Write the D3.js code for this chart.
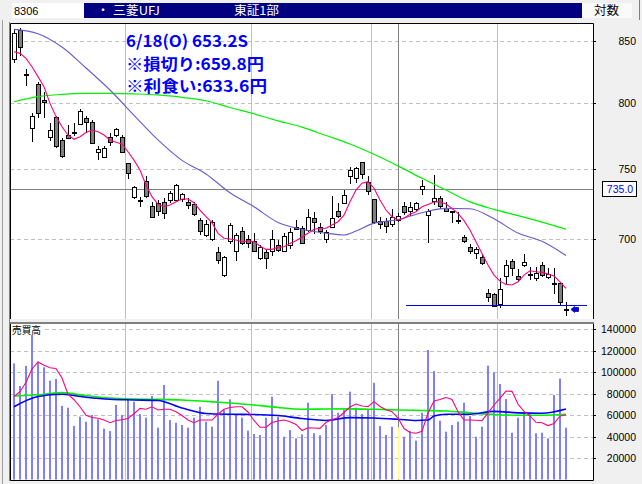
<!DOCTYPE html>
<html><head><meta charset="utf-8">
<script src="https://cdn.jsdelivr.net/npm/d3@7"></script>
<style>
html,body{margin:0;padding:0;background:#f0f0f0;overflow:hidden}
svg{display:block}
</style></head><body>
<svg id="c" width="642" height="484"></svg>
<script>
// ---------- DATA ----------
const opens  = [835,859.5,823,780.4,815,802,774,789,771.5,775,777,783.7,788,785,762.3,759,773.5,775.3,774,754,729.7,727.5,741,723,725,725.7,727.3,727.3,727.8,726,724.4,713,702.9,699.8,690.8,675.6,698.5,692,705.7,699.8,698.6,686.8,690.8,692,696,692,696,708.5,707.3,706.2,714.4,708.5,699.8,708.5,719.5,725,744.9,743,755.1,740.1,727.8,712.5,712.5,710.4,713.2,723.2,719.7,721,735.2,716.7,726.8,728.5,721.4,719.2,713,701.6,694.4,690.3,687.9,663.6,663,656.4,674.7,685,675,682.1,676.5,673.4,682.1,674.5,670.3,670.1,653.5];
const highs  = [860,861,826.9,791.9,817,809,784.2,790,772.8,782.7,784.2,795,790,786.8,766.9,766.6,776.6,781,775.3,754,737.6,729.7,744.9,726.2,727.3,729,734,739,732.5,728.5,726.1,714.4,713.2,713.2,694.6,688.4,710.9,704.2,708.5,702.8,704.2,696,692.4,706.2,699.3,704.2,707.3,713.2,709,720.7,718.6,710.9,706.2,730.2,725.4,734.5,751.5,751.5,755.1,744.9,728,715.1,714.4,720.7,717.9,725.7,726.1,726.1,741.7,720.7,745.4,730.4,726.1,719.5,719,702.8,696.7,694.2,689.1,666.2,663.6,673.4,685.7,686.2,679.5,690.1,680.8,680.8,684.3,680.1,680.1,671.2,658.2];
const lows   = [833,838.6,814.3,771,788.9,789,771.5,765.9,759,772.8,775.3,783.7,777.8,769.2,756.9,758.5,767.9,774.5,762.2,743,728.5,723,729.7,715.5,716.5,714.9,726.1,726.5,726.8,721.4,716.4,703.6,702.2,699.3,683.9,675,697.4,685.7,696.4,694.6,691.5,686.4,680.5,689.1,691.9,691.5,693.8,706.7,697,705.7,704.2,704.2,698.1,708.5,715.5,725,739.3,740.5,743,731.6,711,707.3,704.6,709.3,712.5,717.1,716.5,720.2,731.6,698.1,724.4,721.8,719.5,711.6,710.9,698.1,690.5,687.3,682.8,658.8,655.5,654.9,670.1,675.6,672.3,681.4,672.9,672.3,675.1,673.8,663.6,656.1,649.6];
const closes = [857.3,845.5,822,790,792,801,779,767,759.5,773,777.5,794,785,769.2,764.4,765.6,770,779.6,762.7,746.7,736.5,727,730,715.5,719.7,717.8,732.1,738.1,731.4,723.5,717.1,705.7,710.4,711.6,685.7,687.5,709.7,702.5,697,697.4,692,694.4,686.8,699.8,692.4,702.2,704.6,706.9,697.4,715.1,712,705.5,705,714.4,716.2,730.9,749.1,750.3,746.2,733.8,711.6,710.4,709,715.1,716.2,719,722.5,725,737.5,719.5,728.5,723.2,719.7,718.8,712.5,698.8,692.1,693.1,683.9,661,655.5,666.2,682.1,680.1,672.8,684.1,676,676.8,675.6,676.3,670,658.2,653.2];
const volumes = [108000,87000,105600,137000,109600,104400,91900,93500,68400,66800,49800,58400,53800,60000,56000,47300,45100,69300,60000,74600,72400,60900,57500,77700,48200,87900,55300,52800,50700,48200,57500,67700,53800,49100,91900,64700,74600,60900,57500,45400,42300,41400,57500,77000,58400,39800,46000,38300,42000,71400,43000,41100,50700,79500,62100,64700,81700,66800,60900,65300,90000,49800,41400,49100,48500,39800,45100,36100,62100,120500,100900,54700,44500,50700,53800,71400,59100,39800,49100,105900,99700,88800,74900,43500,57500,61600,60700,43000,43500,38300,78600,93800,48200];
// price moving averages
const priceMA5 = [841.3,840,835.9,829,821,812.9,799.7,789.4,781.6,775.3,772,774,777.1,779.1,777.8,775.3,771.5,769.7,768.5,762.6,756.4,749.1,738.1,729.7,724.2,722.5,723.7,726.1,728,728,725.4,720.2,715.5,711.3,703.9,700.5,700,699.3,698.1,698.8,698.1,695.2,692.9,692.9,694.3,694.7,697,698.8,701.4,703.9,706.7,707.4,707.4,709.7,712,716.6,726.1,734.5,739.4,740.5,735.8,727.3,720.2,715.5,713.2,714.4,717.2,719,722.5,724.2,725.9,726.1,724.4,721.4,717.9,712.7,706.2,698.1,690.1,682.3,675.6,671.6,669.5,669.1,671.2,675.6,678.5,677.8,677.4,676.3,675,671.2,666.9];
const priceMA25 = [[0,860],[4,856.4],[8,845.2],[12,828],[16,810.3],[20,790.4],[24,771.5],[28,756.2],[32,746.2],[36,732.5],[40,722.5],[44,711.5],[48,706.7],[52,704],[55,702.8],[57,705.5],[60,711],[64,713.4],[68,718.3],[72,721.4],[76,721.1],[80,714],[84,704.1],[88,698.4],[92,688.7]];
const priceMA75 = [[0,801],[4,805],[8,806.8],[12,807.6],[16,807.6],[20,807.2],[24,806.4],[28,804.5],[32,801.8],[36,796.5],[40,791.6],[44,786.1],[48,781.3],[52,774.9],[56,768.5],[60,760.8],[64,752.1],[68,743],[72,734.5],[76,726],[80,720.7],[84,716.3],[88,711.7],[92,706.8]];
// volume moving averages
const volMA5 = [77200,81700,90400,102800,109300,106200,104000,103300,94400,79300,74200,67700,59700,57700,57000,55300,52800,54900,55600,56700,61200,66200,65300,67600,64700,65300,65300,63100,59500,55300,52800,55300,55300,55300,60700,65300,67000,67700,67700,62800,54900,48600,48600,53000,54400,55300,53800,51200,45600,48200,47900,47600,53000,55800,57500,62300,67400,70200,68400,67700,72400,67900,64900,63100,57200,47400,43700,43000,44800,61900,73000,74400,76300,74400,63100,55300,55300,55100,54700,61900,69300,75500,82300,82000,70200,63300,59100,53200,52800,50200,52100,59100,60000];
const volMA25 = [[0,67700],[4,77200],[8,79300],[12,76500],[16,74600],[20,74000],[24,73500],[28,66500],[32,61400],[36,60700],[40,60500],[44,59500],[48,56700],[52,54900],[56,57600],[60,57200],[64,56000],[67,54900],[69,55300],[70,59000],[72,60700],[76,60700],[80,63400],[84,62000],[88,61600],[92,65600]];
const volMA75 = [[0,77700],[4,78800],[8,80800],[12,78000],[16,75800],[20,74900],[24,74600],[28,74000],[32,72700],[36,71200],[40,69300],[44,67000],[48,65400],[52,65600],[56,65700],[60,65300],[64,64700],[68,64200],[72,63700],[76,62100],[80,60500],[84,59800],[88,59800],[92,60700]];

const priceTicks = [700,750,800,850];
const volTicks = [20000,40000,60000,80000,100000,120000,140000];
const monthBreaks = [18.5,39.5,59.5,80.5];
const cursorIndex = 64, cursorPrice = 735.0;
const supportPrice = 656, supportFrom = 65.33, supportTo = 95.5;
const lastPrice = 653.2;
const headerTexts = {code:"8306", dot:"・", name:"三菱UFJ", market:"東証1部", mode:"対数"};
const notes = ["6/18(O) 653.2S","※損切り:659.8円","※利食い:633.6円"];
const volLabel = "売買高";

// ---------- DRAW ----------
const svg = d3.select("#c");
const JP = "'Noto Sans CJK JP','Noto Sans CJK SC',sans-serif";
const NUM = "'Liberation Sans',Arial,sans-serif";

const P = {l:10, r:593, t:23, b:319};
const V = {l:10, r:593, t:322, b:480};

const x = d3.scaleLinear().domain([0,92]).range([14,566]);
const yP = d3.scaleLog().domain([700,850]).range([239,41.3]);
const yV = d3.scaleLinear().domain([0,140000]).range([479.5,329]);
const px = v => Math.round(v)+0.5;

// header
svg.append("rect").attr("x",12).attr("y",3).attr("width",72).attr("height",15).attr("fill","#fff");
svg.append("rect").attr("x",84).attr("y",3).attr("width",498).attr("height",15).attr("fill","#000080");
svg.append("rect").attr("x",582).attr("y",3).attr("width",50).attr("height",15).attr("fill","#fafafa");
svg.append("line").attr("x1",639.5).attr("x2",639.5).attr("y1",0).attr("y2",20).attr("stroke","#808080");
svg.append("text").attr("x",14).attr("y",15).attr("font-family",NUM).attr("font-size",11).attr("fill","#000").text(headerTexts.code);
svg.append("text").attr("x",97).attr("y",15).attr("font-family",JP).attr("font-size",12).attr("fill","#fff").text(headerTexts.dot);
svg.append("text").attr("x",113).attr("y",15).attr("font-family",JP).attr("font-size",12).attr("fill","#fff").attr("textLength",47).attr("lengthAdjust","spacingAndGlyphs").text(headerTexts.name);
svg.append("text").attr("x",234).attr("y",15).attr("font-family",JP).attr("font-size",12).attr("fill","#fff").attr("textLength",45).attr("lengthAdjust","spacingAndGlyphs").text(headerTexts.market);
svg.append("text").attr("x",594).attr("y",15).attr("font-family",JP).attr("font-size",12).attr("fill","#000").attr("textLength",25).attr("lengthAdjust","spacingAndGlyphs").text(headerTexts.mode);

// left strip
svg.append("line").attr("x1",2.5).attr("x2",2.5).attr("y1",20).attr("y2",484).attr("stroke","#a0a0a0");
svg.append("line").attr("x1",9.5).attr("x2",9.5).attr("y1",22).attr("y2",481).attr("stroke","#808080");

// panel backgrounds
svg.append("rect").attr("x",P.l).attr("y",P.t).attr("width",P.r-P.l).attr("height",P.b-P.t).attr("fill","#fff");
svg.append("rect").attr("x",V.l).attr("y",V.t).attr("width",V.r-V.l).attr("height",V.b-V.t).attr("fill","#fff");

// clip paths
const defs = svg.append("defs");
defs.append("clipPath").attr("id","cp").append("rect").attr("x",P.l+1).attr("y",P.t+1).attr("width",P.r-P.l-1).attr("height",P.b-P.t-1);
defs.append("clipPath").attr("id","cv").append("rect").attr("x",V.l+1).attr("y",V.t+2).attr("width",V.r-V.l-1).attr("height",V.b-V.t-2);

const gP = svg.append("g").attr("clip-path","url(#cp)");
const gV = svg.append("g").attr("clip-path","url(#cv)");

// price gridlines
gP.selectAll("line.hg").data(priceTicks).join("line")
  .attr("x1",P.l).attr("x2",P.r).attr("y1",d=>px(yP(d))).attr("y2",d=>px(yP(d)))
  .attr("stroke","#c0c0c0").attr("stroke-dasharray","4,3");
gP.selectAll("line.vg").data(monthBreaks).join("line")
  .attr("x1",d=>px(x(d))).attr("x2",d=>px(x(d))).attr("y1",P.t).attr("y2",P.b)
  .attr("stroke","#c0c0c0");
// volume gridlines
gV.selectAll("line.hg").data(volTicks).join("line")
  .attr("x1",V.l).attr("x2",V.r).attr("y1",d=>px(yV(d))).attr("y2",d=>px(yV(d)))
  .attr("stroke","#c0c0c0").attr("stroke-dasharray","4,3");
gV.selectAll("line.vg").data(monthBreaks).join("line")
  .attr("x1",d=>px(x(d))).attr("x2",d=>px(x(d))).attr("y1",V.t).attr("y2",V.b)
  .attr("stroke","#c0c0c0");

// crosshair
gP.append("line").attr("x1",px(x(cursorIndex))).attr("x2",px(x(cursorIndex))).attr("y1",P.t).attr("y2",P.b).attr("stroke","#808080");
gV.append("line").attr("x1",px(x(cursorIndex))).attr("x2",px(x(cursorIndex))).attr("y1",V.t).attr("y2",V.b).attr("stroke","#808080");
gP.append("line").attr("x1",P.l).attr("x2",P.r).attr("y1",Math.floor(yP(cursorPrice))+0.5).attr("y2",Math.floor(yP(cursorPrice))+0.5).attr("stroke","#808080");

// candles
const candles = d3.range(opens.length).map(i=>({i,o:opens[i],h:highs[i],l:lows[i],c:closes[i]}));
gP.selectAll("line.wick").data(candles).join("line")
  .attr("x1",d=>x(d.i)+0.5).attr("x2",d=>x(d.i)+0.5)
  .attr("y1",d=>Math.round(yP(d.h))).attr("y2",d=>Math.round(yP(d.l))+1)
  .attr("stroke","#000");
gP.selectAll("rect.body").data(candles).join("rect")
  .attr("x",d=>x(d.i)-1.5).attr("width",4)
  .attr("y",d=>Math.round(Math.min(yP(d.o),yP(d.c)))+0.5)
  .attr("height",d=>Math.max(1,Math.round(Math.max(yP(d.o),yP(d.c)))-Math.round(Math.min(yP(d.o),yP(d.c)))))
  .attr("fill",d=>d.c<d.o?"#808080":"#fff").attr("stroke","#000");

// price MAs
const lineSeq = d3.line().x((d,i)=>x(i)).y(d=>yP(d));
const linePair = d3.line().x(d=>x(d[0])).y(d=>yP(d[1])).curve(d3.curveMonotoneX);
gP.append("path").attr("d",linePair(priceMA75)).attr("fill","none").attr("stroke","#00f000").attr("stroke-width",1.2);
gP.append("path").attr("d",linePair(priceMA25)).attr("fill","none").attr("stroke","#6a5acd").attr("stroke-width",1.1);
gP.append("path").attr("d",lineSeq(priceMA5)).attr("fill","none").attr("stroke","#ff0080").attr("stroke-width",1.1);

// support line and last price arrow
gP.append("line").attr("x1",x(supportFrom)).attr("x2",x(supportTo))
  .attr("y1",px(yP(supportPrice))).attr("y2",px(yP(supportPrice))).attr("stroke","#0000e0").attr("stroke-width",1.2);
const ay = yP(lastPrice), ax = x(opens.length-1)+5;
gP.append("path").attr("d",`M${ax},${ay} L${ax+3.5},${ay-3} L${ax+3.5},${ay-2} L${ax+7.5},${ay-2} L${ax+7.5},${ay+2} L${ax+3.5},${ay+2} L${ax+3.5},${ay+3} Z`)
  .attr("fill","#0000ff").attr("stroke","#000080").attr("stroke-width",0.8);

// notes
const noteLen = [122,138,141], noteY = [47,69.5,92];
notes.forEach((t,k)=>{
  svg.append("text").attr("x",126).attr("y",noteY[k]).attr("font-family",JP).attr("font-size",16).attr("font-weight","bold")
    .attr("fill","#0000ff").attr("textLength",noteLen[k]).attr("lengthAdjust","spacingAndGlyphs").text(t);
});

// volume bars
gV.selectAll("rect.vb").data(volumes).join("rect")
  .attr("x",(d,i)=>i===cursorIndex?x(i):x(i)-1).attr("width",(d,i)=>i===cursorIndex?1:2)
  .attr("y",d=>yV(d)).attr("height",d=>yV(0)-yV(d))
  .attr("fill",(d,i)=>i===cursorIndex?"#ffff80":"#8080ff");
const vSeq = d3.line().x((d,i)=>x(i)).y(d=>yV(d));
const vPair = d3.line().x(d=>x(d[0])).y(d=>yV(d[1])).curve(d3.curveMonotoneX);
gV.append("path").attr("d",vPair(volMA75)).attr("fill","none").attr("stroke","#00f000").attr("stroke-width",1.6);
gV.append("path").attr("d",vPair(volMA25)).attr("fill","none").attr("stroke","#0000ff").attr("stroke-width",1.6);
gV.append("path").attr("d",vSeq(volMA5)).attr("fill","none").attr("stroke","#ff0080").attr("stroke-width",1.1);

// volume label
svg.append("rect").attr("x",11).attr("y",324).attr("width",32).attr("height",11).attr("fill","#fff");
svg.append("text").attr("x",12).attr("y",333.5).attr("font-family",JP).attr("font-size",10.5).attr("fill","#000")
  .attr("textLength",29).attr("lengthAdjust","spacingAndGlyphs").text(volLabel);

// panel borders
svg.append("path").attr("d",`M${P.l+0.5},${P.b} V${P.t+0.5} H${P.r+0.5} V${P.b}`).attr("fill","none").attr("stroke","#000");
svg.append("path").attr("d",`M${V.l+0.5},${V.t} V${V.b+0.5} H${V.r+0.5} V${V.t}`).attr("fill","none").attr("stroke","#000");
svg.append("line").attr("x1",V.l).attr("x2",V.r+1).attr("y1",V.t+1).attr("y2",V.t+1).attr("stroke","#808080").attr("stroke-width",2);

// right axes
svg.selectAll("line.pt").data(priceTicks).join("line")
  .attr("x1",P.r).attr("x2",P.r+3).attr("y1",d=>px(yP(d))).attr("y2",d=>px(yP(d))).attr("stroke","#000");
svg.selectAll("text.pt").data(priceTicks).join("text")
  .attr("x",636).attr("y",d=>yP(d)+4).attr("text-anchor","end").attr("font-family",NUM).attr("font-size",10.5).attr("fill","#000")
  .text(d3.format("d"));
svg.selectAll("line.vt").data(volTicks).join("line")
  .attr("x1",V.r).attr("x2",V.r+3).attr("y1",d=>px(yV(d))).attr("y2",d=>px(yV(d))).attr("stroke","#000");
svg.selectAll("text.vt").data(volTicks).join("text")
  .attr("x",636).attr("y",d=>yV(d)+4).attr("text-anchor","end").attr("font-family",NUM).attr("font-size",10.5).attr("fill","#000")
  .text(d3.format("d"));

// crosshair price label
const cy = yP(cursorPrice);
svg.append("rect").attr("x",602.5).attr("y",Math.round(cy)-7.5).attr("width",34).attr("height",15).attr("fill","#fff").attr("stroke","#000");
svg.append("text").attr("x",620).attr("y",cy+4).attr("text-anchor","middle").attr("font-family",NUM).attr("font-size",10.5).attr("fill","#0000ff")
  .text(d3.format(".1f")(cursorPrice));
</script>
</body></html>
